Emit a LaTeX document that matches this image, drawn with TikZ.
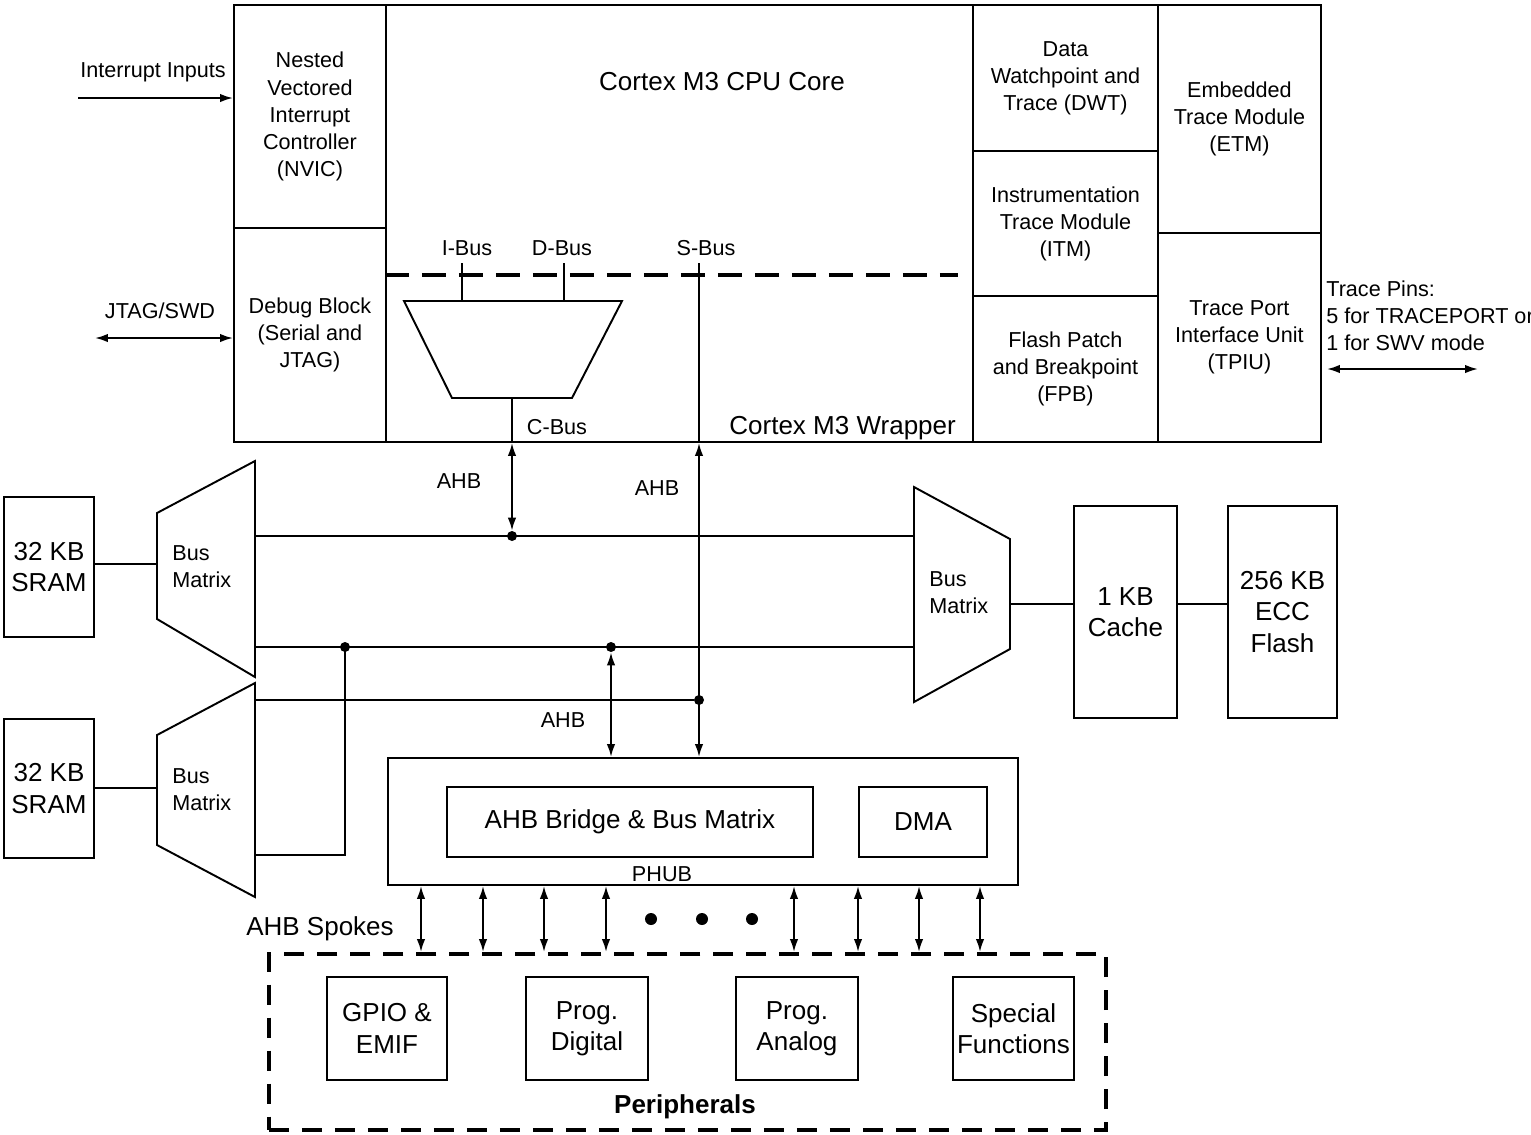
\documentclass[tikz,border=0pt]{standalone}
\usepackage{fontspec}
\setmainfont{Liberation Sans}
\usetikzlibrary{arrows.meta,calc,positioning}
\newcommand{\txtS}{\fontsize{12.3}{15.4}\selectfont}
\newcommand{\txtL}{\fontsize{14.8}{17.8}\selectfont}

\begin{document}
\begin{tikzpicture}[x=0.02cm, y=-0.02cm,
  box/.style={draw, line width=1.1pt, inner sep=0pt, align=center, font=\txtS, anchor=north west},
  bigbox/.style={box, font=\txtL},
  sz/.style 2 args={minimum width=#1*0.02cm, minimum height=#2*0.02cm},
  lab/.style={font=\txtS, inner sep=0pt},
  wire/.style={line width=1.1pt},
  arr/.style={wire, -{Latex[length=2.6mm, width=1.7mm]}},
  dbl/.style={wire, {Latex[length=2.6mm, width=1.7mm]}-{Latex[length=2.6mm, width=1.7mm]}},
  jdot/.style={circle, fill, inner sep=0pt, minimum size=2mm},
  busdash/.style={line width=2.2pt, dash pattern=on 0.48cm off 0.26cm},
  perdash/.style={draw, line width=2.2pt, dash pattern=on 0.4cm off 0.26cm},
]
\useasboundingbox (0,0) rectangle (1531,1134);
% ---------------- Cortex M3 wrapper
\node[box, sz={1087}{437}] (wrap) at (233,4) {};
\node[box, sz={152}{223}] (nvic) at (233,4) {Nested\\Vectored\\Interrupt\\Controller\\(NVIC)};
\node[box, sz={152}{214}] (dbg) at (233,227) {Debug Block\\(Serial and\\JTAG)};
\node[box, sz={185}{146}] (dwt) at (972,4) {Data\\Watchpoint and\\Trace (DWT)};
\node[box, sz={185}{145}] (itm) at (972,150) {Instrumentation\\Trace Module\\(ITM)};
\node[box, sz={185}{146}] (fpb) at (972,295) {Flash Patch\\and Breakpoint\\(FPB)};
\node[box, sz={163}{228}] (etm) at (1157,4) {Embedded\\Trace Module\\(ETM)};
\node[box, sz={163}{209}] (tpiu) at (1157,232) {Trace Port\\Interface Unit\\(TPIU)};
\node[font=\txtL] (core) at (722,82) {Cortex M3 CPU Core};
\node[font=\txtL, anchor=east] (wraplab) at (962,428) {Cortex M3 Wrapper};
% internal buses
\coordinate (busL) at (385,275);
\coordinate (busR) at (958,275);
\draw[busdash] (busL) -- (busR);
\node[lab] (ibus) at (467,248) {I-Bus};
\node[lab] (dbus) at (562,248) {D-Bus};
\node[lab] (sbus) at (706,248) {S-Bus};
\coordinate (mtl) at (404,301);
\coordinate (mtr) at (622,301);
\coordinate (mbr) at (572,398);
\coordinate (mbl) at (452,398);
\draw[wire] (mtl) -- (mtr) -- (mbr) -- (mbl) -- cycle;
\coordinate (itop) at (462,263);
\coordinate (dtop) at (564,263);
\coordinate (stop) at (699,263);
\coordinate (cbus) at (512,398);
\draw[wire] (itop) -- (itop |- mtl);
\draw[wire] (dtop) -- (dtop |- mtl);
\draw[wire] (stop) -- (stop |- wrap.south);
\draw[wire] (cbus) -- (cbus |- wrap.south);
\node[lab] (cbuslab) at (557,427) {C-Bus};
% external pins
\node[lab] (intlab) at (153,72) {Interrupt Inputs};
\coordinate (intsrc) at (78,98);
\draw[arr] (intsrc) -- (intsrc -| nvic.west);
\node[lab] (jtaglab) at (160,311) {JTAG/SWD};
\coordinate (jtagsrc) at (95,338);
\draw[dbl] (jtagsrc) -- (jtagsrc -| dbg.west);
\node[lab, anchor=west, align=left] (tracelab) at (1326,316) {Trace Pins:\\5 for TRACEPORT or\\1 for SWV mode};
\coordinate (tracepin) at (1478,369);
\draw[dbl] ($(tracepin -| tpiu.east)+(5,0)$) -- (tracepin);
% ---------------- memories and bus matrices
\node[bigbox, sz={90}{140}] (sram1) at (3,496) {32 KB\\SRAM};
\node[bigbox, sz={90}{139}] (sram2) at (3,718) {32 KB\\SRAM};
\coordinate (bm1n) at (255,461);
\coordinate (bm2n) at (255,683);
\coordinate (bm3n) at (914,487);
\draw[wire] (157,513) -- (bm1n) -- (255,677) -- (157,619) -- cycle;
\draw[wire] (157,735) -- (bm2n) -- (255,897) -- (157,845) -- cycle;
\draw[wire] (bm3n) -- (1010,539) -- (1010,649) -- (914,702) -- cycle;
\node[lab, anchor=west, align=left] (bm1lab) at (172,567) {Bus\\Matrix};
\node[lab, anchor=west, align=left] (bm2lab) at (172,790) {Bus\\Matrix};
\node[lab, anchor=west, align=left] (bm3lab) at (929,593) {Bus\\Matrix};
\coordinate (bm1in) at (157,564);
\coordinate (bm2in) at (157,788);
\draw[wire] (sram1.east |- bm1in) -- (bm1in);
\draw[wire] (sram2.east |- bm2in) -- (bm2in);
\node[bigbox, sz={103}{212}] (cache) at (1073,505) {1 KB\\Cache};
\node[bigbox, sz={109}{212}] (flash) at (1227,505) {256 KB\\ECC\\Flash};
\coordinate (bm3out) at (1010,604);
\draw[wire] (bm3out) -- (bm3out -| cache.west);
\draw[wire] (cache.east |- bm3out) -- (flash.west |- bm3out);
% junctions
\node[jdot] (j1) at (512,536) {};
\node[jdot] (j2) at (345,647) {};
\node[jdot] (j3) at (611,647) {};
\node[jdot] (j4) at (699,700) {};
\coordinate (bm2lo) at (255,855);
\draw[wire] (bm1n |- j1) -- (bm3n |- j1);
\draw[wire] (bm1n |- j2) -- (bm3n |- j2);
\draw[wire] (bm2n |- j4) -- (j4);
\draw[wire] (j2.center) -- (j2 |- bm2lo) -- (bm2lo);
% ---------------- PHUB
\node[box, sz={630}{127}] (phub) at (387,757) {};
\node[lab] (phublab) at (662,874) {PHUB};
\node[bigbox, sz={366}{70}] (bridge) at (446,786) {AHB Bridge \& Bus Matrix};
\node[bigbox, sz={128}{70}] (dma) at (858,786) {DMA};
\draw[dbl] (cbus |- wrap.south) -- (j1);
\draw[dbl] (stop |- wrap.south) -- (stop |- phub.north);
\draw[dbl] (j3) -- (j3 |- phub.north);
\node[lab] (ahb1) at (459,481) {AHB};
\node[lab] (ahb2) at (657,488) {AHB};
\node[lab] (ahb3) at (563,720) {AHB};
% ---------------- peripherals
\node[perdash, anchor=north west, sz={837}{176}] (periph) at (267,952) {};
\node[font={\txtL\bfseries}] (perlab) at (685,1107) {Peripherals};
\node[bigbox, sz={120}{103}] (gpio) at (326,976) {GPIO \&\\EMIF};
\node[bigbox, sz={122}{103}] (pdig) at (525,976) {Prog.\\Digital};
\node[bigbox, sz={122}{103}] (pana) at (735,976) {Prog.\\Analog};
\node[bigbox, sz={121}{103}] (spec) at (952,976) {Special\\Functions};
\foreach \sx in {421,483,544,606,794,858,919,980}
  \draw[dbl] (\sx,0 |- phub.south) -- (\sx,0 |- periph.north);
\foreach \dx in {651,702,752}
  \fill (\dx,919) circle (1.2mm);
\node[font=\txtL] (spokes) at (320,929) {AHB Spokes};
\end{tikzpicture}
\end{document}
